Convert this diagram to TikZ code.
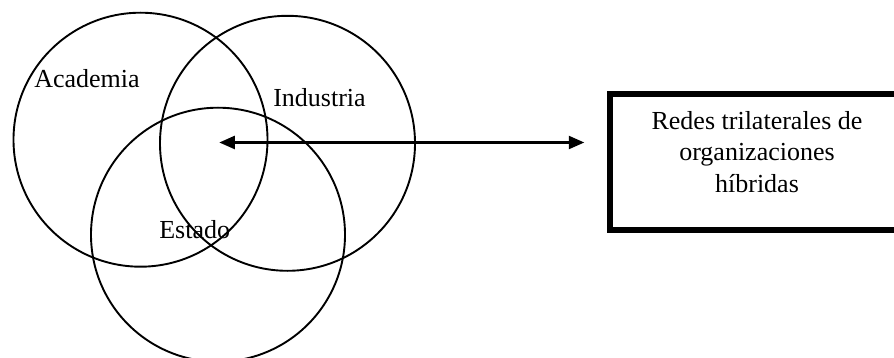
\documentclass[tikz,border=0pt]{standalone}
\usepackage{fontspec}
\setmainfont{Liberation Serif}
\usetikzlibrary{arrows.meta}

\begin{document}
\begin{tikzpicture}[x=1pt,y=-1pt,
		esfera/.style={circle,draw,line width=1.9pt,minimum size=254pt,inner sep=0pt},
		rotulo/.style={anchor=base,inner sep=0pt,font=\fontsize{26}{31.5}\selectfont},
		flecha/.style={line width=2.3pt,{Triangle[length=15.5pt,width=13pt]}-{Triangle[length=15.5pt,width=13pt]}}]
			\fill[white] (0,0) rectangle (894,358);
			\useasboundingbox (0,0) rectangle (894,358);
			\clip (0,0) rectangle (894,358);
			
			\node(A) at (140.5,139.7)[esfera]{};
			\node(I) at (287.5,143.3)[esfera,minimum size=255pt]{};
			\node(E) at (218,234.7)[esfera]{};
			
			\node(a) at (87,87.3)[rotulo]{Academia};
			\node(i) at (319.5,106.7)[rotulo]{Industria};
			\node(e) at (194.7,238.3)[rotulo]{Estado};
			
			\node(R) at (757,161.7)[draw,line width=6pt,minimum width=294pt,minimum height=136pt,inner sep=0pt]{};
			\node(r) at (757,111.2)[rotulo,anchor=north,align=center]{Redes trilaterales de\\organizaciones\\híbridas};
			
			\coordinate(c) at (219.3,142.5);
			\draw[flecha,shorten >=22.7pt] (c) to (c -| R.west);
		\end{tikzpicture}
\end{document}
